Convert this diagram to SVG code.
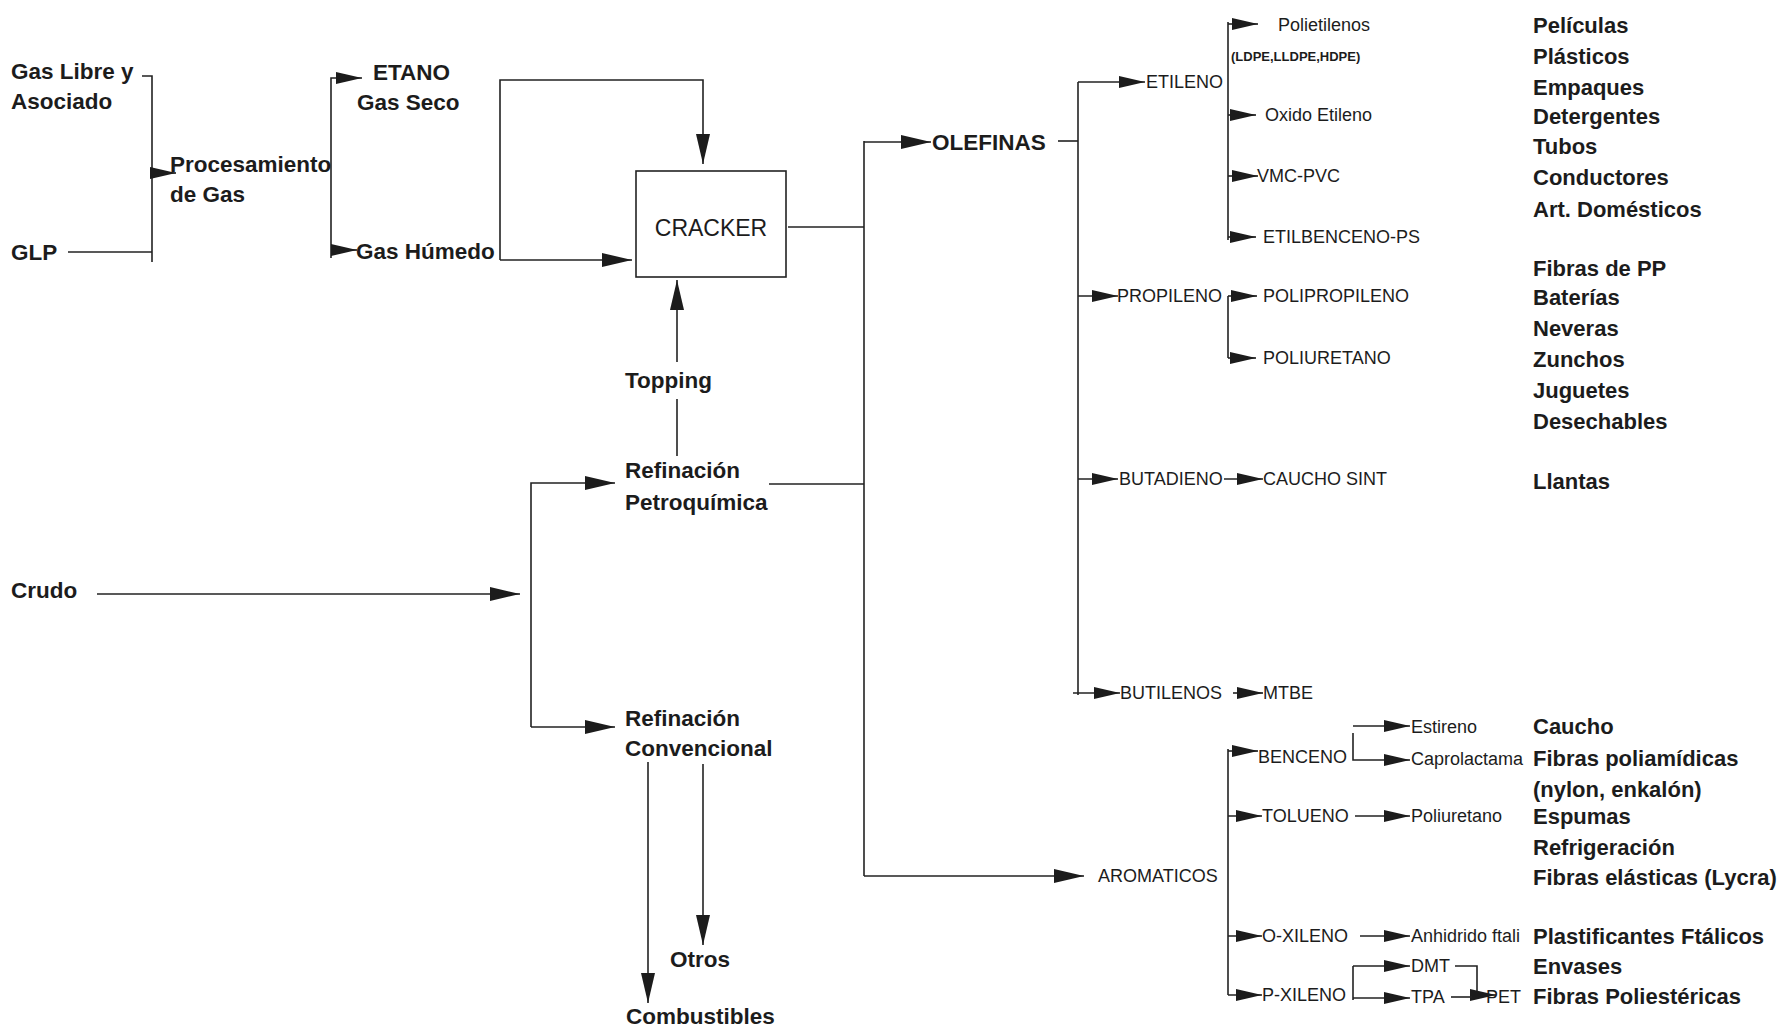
<svg xmlns="http://www.w3.org/2000/svg" width="1787" height="1031" viewBox="0 0 1787 1031">
<style>
.b{font-family:"Liberation Sans",Arial,sans-serif;font-weight:bold;font-size:22.5px;fill:#1c1c1c}
.r{font-family:"Liberation Sans",Arial,sans-serif;font-size:18px;fill:#1c1c1c}
.c{font-family:"Liberation Sans",Arial,sans-serif;font-size:23px;fill:#1c1c1c}
.p{font-family:"Liberation Sans",Arial,sans-serif;font-weight:bold;font-size:22px;fill:#1c1c1c}
.l{fill:none;stroke:#222;stroke-width:1.6}
.a{fill:none;stroke:#222;stroke-width:1.6;marker-end:url(#ah)}
.A{fill:none;stroke:#222;stroke-width:1.6;marker-end:url(#AH)}
</style>
<defs>
<marker id="ah" markerUnits="userSpaceOnUse" markerWidth="26" markerHeight="12" viewBox="0 0 26 12" refX="26" refY="6" orient="auto"><path d="M0,0 L26,6 L0,12 Z" fill="#1c1c1c"/></marker>
<marker id="AH" markerUnits="userSpaceOnUse" markerWidth="30" markerHeight="14" viewBox="0 0 30 14" refX="30" refY="7" orient="auto"><path d="M0,0 L30,7 L0,14 Z" fill="#1c1c1c"/></marker>
<clipPath id="capclip"><rect x="1400" y="740" width="130" height="40"/></clipPath>
</defs>
<rect width="1787" height="1031" fill="#fff"/>

<g id="connectors">
<path class="l" d="M142,76 H152 V262"/>
<path class="l" d="M68,252 H152"/>
<path class="a" d="M152,173 H176"/>
<path class="a" d="M331,258 V78 H362"/>
<path class="a" d="M331,250 H357"/>
<path class="A" d="M500,260 V80 H703 V164"/>
<path class="A" d="M500,260 H632"/>
<path class="l" d="M788,227 H864"/>
<path class="A" d="M677,362 V280"/>
<path class="l" d="M677,399 V456"/>
<path class="A" d="M97,594 H520"/>
<path class="A" d="M531,727 V483 H615"/>
<path class="A" d="M531,727 H615"/>
<path class="l" d="M769,484 H864"/>
<path class="A" d="M648,762 V1003"/>
<path class="A" d="M703,764 V945"/>
<path class="l" d="M864,141 V876"/>
<path class="A" d="M864,142 H931"/>
<path class="A" d="M864,876 H1084"/>
<path class="l" d="M1058,141 H1078"/>
<path class="l" d="M1078,82 V695"/>
<path class="a" d="M1078,82 H1145"/>
<path class="a" d="M1078,296 H1118"/>
<path class="a" d="M1078,479 H1118"/>
<path class="a" d="M1073,693 H1120"/>
<path class="a" d="M1224,479 H1263"/>
<path class="a" d="M1233,693 H1263"/>
<path class="l" d="M1228,22 V240"/>
<path class="a" d="M1228,24 H1258"/>
<path class="a" d="M1228,115 H1256"/>
<path class="a" d="M1228,176 H1258"/>
<path class="a" d="M1228,237 H1256"/>
<path class="l" d="M1228,296 V358"/>
<path class="a" d="M1228,296 H1257"/>
<path class="a" d="M1228,358 H1256"/>
<path class="l" d="M1228,749 V995"/>
<path class="a" d="M1228,751 H1258"/>
<path class="a" d="M1228,816 H1262"/>
<path class="a" d="M1228,936 H1262"/>
<path class="a" d="M1228,995 H1262"/>
<path class="a" d="M1353,726 H1410"/>
<path class="a" d="M1353,733 V760 H1410"/>
<path class="a" d="M1355,816 H1410"/>
<path class="a" d="M1360,936 H1410"/>
<path class="l" d="M1353,966 V1000"/>
<path class="a" d="M1353,966 H1410"/>
<path class="a" d="M1353,998 H1410"/>
<path class="a" d="M1455,966 H1477 V995 H1496"/>
<path class="l" d="M1451,997 H1472"/>
</g>

<g id="n-gaslibre"><text class="b" x="11" y="79">Gas Libre y</text><text class="b" x="11" y="109">Asociado</text></g>
<g id="n-glp"><text class="b" x="11" y="260">GLP</text></g>
<g id="n-procesamiento"><text class="b" x="170" y="172">Procesamiento</text><text class="b" x="170" y="202">de Gas</text></g>
<g id="n-etano"><text class="b" x="373" y="80">ETANO</text><text class="b" x="357" y="110">Gas Seco</text></g>
<g id="n-gashumedo"><text class="b" x="356" y="259">Gas Húmedo</text></g>
<g id="n-cracker"><rect x="636" y="171" width="150" height="106" fill="none" stroke="#222" stroke-width="1.6"/><text class="c" x="711" y="236" text-anchor="middle">CRACKER</text></g>
<g id="n-topping"><text class="b" x="625" y="388">Topping</text></g>
<g id="n-refpetro"><text class="b" x="625" y="478">Refinación</text><text class="b" x="625" y="510">Petroquímica</text></g>
<g id="n-crudo"><text class="b" x="11" y="598">Crudo</text></g>
<g id="n-refconv"><text class="b" x="625" y="726">Refinación</text><text class="b" x="625" y="756">Convencional</text></g>
<g id="n-otros"><text class="b" x="670" y="967">Otros</text></g>
<g id="n-combustibles"><text class="b" x="626" y="1024">Combustibles</text></g>
<g id="n-olefinas"><text class="b" x="932" y="150">OLEFINAS</text></g>
<g id="n-aromaticos"><text class="r" x="1098" y="882">AROMATICOS</text></g>

<g id="n-etileno"><text class="r" x="1146" y="88">ETILENO</text></g>
<g id="n-polietilenos"><text class="r" x="1278" y="31">Polietilenos</text><text x="1231" y="61" font-family="Liberation Sans, Arial, sans-serif" font-weight="bold" font-size="13" fill="#1c1c1c">(LDPE,LLDPE,HDPE)</text></g>
<g id="n-oxido"><text class="r" x="1265" y="121">Oxido Etileno</text></g>
<g id="n-vmc"><text class="r" x="1257" y="182">VMC-PVC</text></g>
<g id="n-etilbenceno"><text class="r" x="1263" y="243">ETILBENCENO-PS</text></g>
<g id="n-propileno"><text class="r" x="1117" y="302">PROPILENO</text></g>
<g id="n-polipropileno"><text class="r" x="1263" y="302">POLIPROPILENO</text></g>
<g id="n-poliuretano1"><text class="r" x="1263" y="364">POLIURETANO</text></g>
<g id="n-butadieno"><text class="r" x="1119" y="485">BUTADIENO</text></g>
<g id="n-caucho-sint"><text class="r" x="1263" y="485">CAUCHO SINT</text></g>
<g id="n-butilenos"><text class="r" x="1120" y="699">BUTILENOS</text></g>
<g id="n-mtbe"><text class="r" x="1263" y="699">MTBE</text></g>
<g id="n-benceno"><text class="r" x="1258" y="763">BENCENO</text></g>
<g id="n-estireno"><text class="r" x="1411" y="733">Estireno</text></g>
<g id="n-caprolactama"><text class="r" x="1411" y="765" clip-path="url(#capclip)">Caprolactama</text></g>
<g id="n-tolueno"><text class="r" x="1262" y="822">TOLUENO</text></g>
<g id="n-poliuretano2"><text class="r" x="1411" y="822">Poliuretano</text></g>
<g id="n-oxileno"><text class="r" x="1262" y="942">O-XILENO</text></g>
<g id="n-anhidrido"><text class="r" x="1411" y="942">Anhidrido ftali</text></g>
<g id="n-pxileno"><text class="r" x="1262" y="1001">P-XILENO</text></g>
<g id="n-dmt"><text class="r" x="1411" y="972">DMT</text></g>
<g id="n-tpa"><text class="r" x="1411" y="1003">TPA</text></g>
<g id="n-pet"><text class="r" x="1486" y="1003">PET</text></g>

<g id="n-usos">
<text class="p" x="1533" y="33">Películas</text>
<text class="p" x="1533" y="64">Plásticos</text>
<text class="p" x="1533" y="95">Empaques</text>
<text class="p" x="1533" y="124">Detergentes</text>
<text class="p" x="1533" y="154">Tubos</text>
<text class="p" x="1533" y="185">Conductores</text>
<text class="p" x="1533" y="217">Art. Domésticos</text>
<text class="p" x="1533" y="276">Fibras de PP</text>
<text class="p" x="1533" y="305">Baterías</text>
<text class="p" x="1533" y="336">Neveras</text>
<text class="p" x="1533" y="367">Zunchos</text>
<text class="p" x="1533" y="398">Juguetes</text>
<text class="p" x="1533" y="429">Desechables</text>
<text class="p" x="1533" y="489">Llantas</text>
<text class="p" x="1533" y="734">Caucho</text>
<text class="p" x="1533" y="766">Fibras poliamídicas</text>
<text class="p" x="1533" y="797">(nylon, enkalón)</text>
<text class="p" x="1533" y="824">Espumas</text>
<text class="p" x="1533" y="855">Refrigeración</text>
<text class="p" x="1533" y="885">Fibras elásticas (Lycra)</text>
<text class="p" x="1533" y="944">Plastificantes Ftálicos</text>
<text class="p" x="1533" y="974">Envases</text>
<text class="p" x="1533" y="1004">Fibras Poliestéricas</text>
</g>
</svg>
